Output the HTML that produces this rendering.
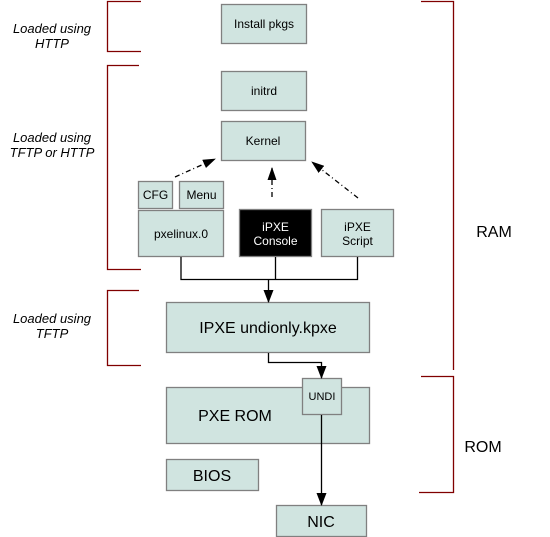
<!DOCTYPE html>
<html><head><meta charset="utf-8"><style>
html,body{margin:0;padding:0;background:#fff;}
svg{display:block;font-family:"Liberation Sans",Arial,sans-serif;}
</style></head><body>
<svg width="550" height="537" viewBox="0 0 550 537" xmlns="http://www.w3.org/2000/svg">
<defs>
<marker id="a" markerWidth="13" markerHeight="10" refX="12" refY="5" orient="auto" markerUnits="userSpaceOnUse" viewBox="0 0 13 10"><path d="M0,0 L13,5 L0,10 z" fill="#000"/></marker>
<marker id="b" markerWidth="13" markerHeight="9" refX="12" refY="4.5" orient="auto" markerUnits="userSpaceOnUse" viewBox="0 0 13 9"><path d="M0,0 L13,4.5 L0,9 z" fill="#000"/></marker>
</defs>
<g fill="none" stroke="#800000" stroke-width="1.3">
<path d="M141,1.5 H107.5 V51.5 H141"/>
<path d="M139,65.5 H107.5 V269.5 H141"/>
<path d="M139,290.5 H107.5 V365.5 H141"/>
<path d="M421,1.5 H453.5 V370"/>
<path d="M421,376.5 H453.5 V492.5 H419"/>
</g>
<g font-style="italic" font-size="13" fill="#000" text-anchor="middle">
<text x="52" y="33">Loaded using</text><text x="52" y="48">HTTP</text>
<text x="52" y="142">Loaded using</text><text x="52" y="157">TFTP or HTTP</text>
<text x="52" y="323">Loaded using</text><text x="52" y="338">TFTP</text>
</g>
<text x="494" y="237" font-size="16" text-anchor="middle">RAM</text>
<text x="483" y="452" font-size="16" text-anchor="middle">ROM</text>
<g stroke="#808080" stroke-width="1.3" fill="#d0e4e0">
<rect x="221.5" y="4.5" width="85" height="39"/>
<rect x="221.5" y="71.5" width="85" height="39"/>
<rect x="221.5" y="121.5" width="84" height="39"/>
<rect x="138.5" y="181.5" width="34" height="27"/>
<rect x="179.5" y="181.5" width="44" height="27"/>
<rect x="138.5" y="210.5" width="85" height="46"/>
<rect x="239.5" y="209.5" width="72" height="47" fill="#000"/>
<rect x="321.5" y="209.5" width="72" height="47"/>
<rect x="166.5" y="302.5" width="203" height="50"/>
<rect x="166.5" y="387.5" width="203" height="56"/>
<rect x="302.5" y="378.5" width="39" height="36"/>
<rect x="166.5" y="459.5" width="92" height="31"/>
<rect x="276.5" y="505.5" width="90" height="31"/>
</g>
<g font-size="12" text-anchor="middle" fill="#000">
<text x="264" y="28">Install pkgs</text>
<text x="264" y="95">initrd</text>
<text x="263" y="145">Kernel</text>
<text x="155.5" y="199">CFG</text>
<text x="201.5" y="199">Menu</text>
<text x="181" y="238">pxelinux.0</text>
<text x="275.5" y="231" fill="#fff">iPXE</text>
<text x="275.5" y="245" fill="#fff">Console</text>
<text x="357.5" y="231">iPXE</text>
<text x="357.5" y="245">Script</text>
<text x="322" y="400" font-size="11">UNDI</text>
</g>
<g font-size="16" text-anchor="middle" fill="#000">
<text x="268" y="333">IPXE undionly.kpxe</text>
<text x="235" y="421">PXE ROM</text>
<text x="212" y="481">BIOS</text>
<text x="321" y="527">NIC</text>
</g>
<g stroke="#000" stroke-width="1.3" fill="none">
<path d="M181,257 V279.5 H357.5 V257"/>
<path d="M275.5,257 V279.5"/>
<path d="M268.5,279.5 V302" marker-end="url(#a)"/>
<path d="M268.5,353 V362.5 H321.5 V378" marker-end="url(#a)"/>
<path d="M321.5,415 V505" marker-end="url(#a)"/>
<g stroke-dasharray="5,3,1,3">
<path d="M175,177 L215,159" marker-end="url(#b)"/>
<path d="M272,197 L272,168" marker-end="url(#b)"/>
<path d="M358,198 L312,162" marker-end="url(#b)"/>
</g>
</g>
</svg>
</body></html>
